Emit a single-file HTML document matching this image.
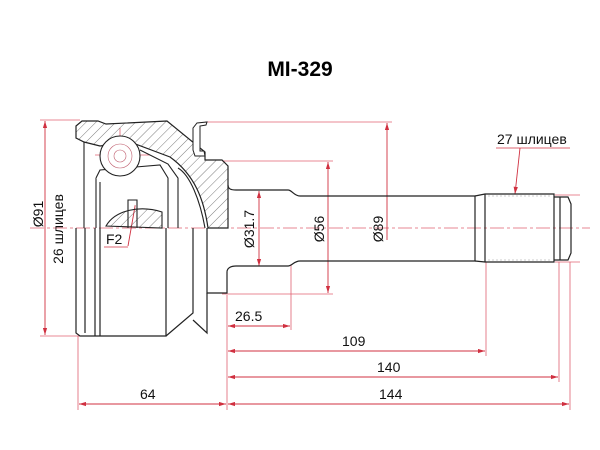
<!DOCTYPE html>
<html><head><meta charset="utf-8"><style>
html,body{margin:0;padding:0;background:#fff;}
svg{display:block;font-family:"Liberation Sans",sans-serif;}
</style></head><body>
<svg width="600" height="450" viewBox="0 0 600 450" xmlns="http://www.w3.org/2000/svg">
<defs>
<pattern id="h" width="7" height="7" patternUnits="userSpaceOnUse" patternTransform="rotate(45)">
<line x1="0" y1="0" x2="0" y2="7" stroke="#444" stroke-width="0.7"/>
</pattern>
<marker id="a" viewBox="0 0 10 6" refX="10" refY="3" markerWidth="8" markerHeight="5" orient="auto-start-reverse">
<path d="M0,0 L10,3 L0,6 z" fill="#d03040"/>
</marker>
</defs>
<text x="300" y="76" font-size="21" font-weight="bold" text-anchor="middle">MI-329</text>

<g stroke="#e06070" stroke-width="0.8" fill="none">
<line x1="205" y1="122" x2="392" y2="122"/>
<line x1="222" y1="161" x2="333" y2="161"/>
<line x1="222" y1="294" x2="333" y2="294"/>
<line x1="40" y1="120" x2="80" y2="120"/>
<line x1="40" y1="336" x2="80" y2="336"/>
<line x1="555" y1="195" x2="580" y2="195"/>
<line x1="555" y1="262" x2="580" y2="262"/>
<line x1="227" y1="295" x2="227" y2="410"/>
<line x1="291" y1="265" x2="291" y2="330"/>
<line x1="486" y1="262" x2="486" y2="356"/>
<line x1="559" y1="262" x2="559" y2="382"/>
<line x1="570" y1="262" x2="570" y2="410"/>
<line x1="78" y1="336" x2="78" y2="410"/>
<line x1="120" y1="128" x2="120" y2="190"/>
<line x1="95" y1="155" x2="150" y2="155"/>
<line x1="30" y1="228" x2="590" y2="228" stroke-dasharray="14,3,3,3"/>
</g>
<g stroke="#d03040" stroke-width="0.9" fill="none" marker-start="url(#a)" marker-end="url(#a)">
<line x1="45" y1="121" x2="45" y2="335"/>
<line x1="259" y1="191" x2="259" y2="266"/>
<line x1="328" y1="162" x2="328" y2="293"/>
<line x1="387" y1="123" x2="387" y2="240" marker-end="none"/>
<line x1="228" y1="326" x2="290" y2="326"/>
<line x1="228" y1="351" x2="485" y2="351"/>
<line x1="228" y1="377" x2="558" y2="377"/>
<line x1="228" y1="404" x2="569" y2="404"/>
<line x1="79" y1="404" x2="226" y2="404"/>
<line x1="520" y1="148" x2="515" y2="194" marker-start="none"/>
<line x1="137" y1="195" x2="128" y2="246" marker-start="none" marker-end="none"/>
</g>
<line x1="496" y1="148" x2="570" y2="148" stroke="#d03040" stroke-width="0.8"/>
<line x1="104" y1="247" x2="128" y2="247" stroke="#d03040" stroke-width="0.8"/>

<path d="M76,126 L82,121 L98,121 L106,124 L167,121 L205,152 L205,160 L222,160 L228,166 L228,228 L208,228 C204,200 195,175 170,157 L130,142 L100,146 L84,142 L76,138 Z" fill="url(#h)" stroke="#222" stroke-width="1.2"/>
<path d="M193,128 L197,123 L207,122 L206,125 L200,126 L200,151 L204,151 L205,156 L195,156 L193,150 Z" fill="#fff" stroke="#222" stroke-width="1"/>
<g stroke="#222" stroke-width="1.1" fill="#fff">
<path d="M84,142 L84,228 M96,178 L96,228 M100,182 L100,228"/>
<path d="M96,178 L100,170 L160,165 L168,178 L168,228"/>
<path d="M106,226 C115,210 140,205 162,212 L162,228 Z" fill="url(#h)"/>
<circle cx="120" cy="156" r="20"/>
<path d="M140,150 L168,164 L178,178 L178,228" fill="none"/>
<path d="M128,228 L128,200 L137,200 L137,228" fill="none"/>
<path d="M178,168 C190,175 200,200 205,228" fill="none"/>
</g>
<g stroke="#c06070" stroke-width="0.6" fill="none"><circle cx="120" cy="156" r="12"/><circle cx="120" cy="156" r="6"/></g>

<g stroke="#222" stroke-width="1.2" fill="none">
<path d="M76,228 L76,333 L80,336 L166,336 L166,228"/>
<path d="M85,228 L85,333 M95,228 L95,336 M100,228 L100,336"/>
<path d="M166,336 L193,313 L193,228"/>
<path d="M207,228 L207,293 L227,293 L227,272 C227,268 231,266 236,266"/>
<path d="M207,293 L207,333 L193,320"/>
<path d="M228,185 C228,189 231,190 236,190 L288,190 C292,190 294,196 300,196 L475,196 L475,261 L300,261 C294,261 292,266 288,266 L236,266"/>
<path d="M475,196 L485,194 L554,194 L554,262 L485,262 L475,261"/>
<path d="M485,194 L485,262 M554,197 L568,197 L571,204 L571,253 L568,260 L554,260 M560,197 L560,260"/>
</g>
<g stroke="#999" stroke-width="0.6" stroke-dasharray="2,2"><line x1="488" y1="196" x2="552" y2="196"/><line x1="488" y1="260" x2="552" y2="260"/></g>

<g font-size="14" fill="#111">
<text x="497" y="144">27 шлицев</text>
<text x="106" y="244">F2</text>
<text x="235" y="321">26.5</text>
<text x="342" y="346">109</text>
<text x="377" y="372">140</text>
<text x="379" y="399">144</text>
<text x="140" y="399">64</text>
<text transform="translate(43,214) rotate(-90)" text-anchor="middle">Ø91</text>
<text transform="translate(63,229) rotate(-90)" text-anchor="middle">26 шлицев</text>
<text transform="translate(254,229) rotate(-90)" text-anchor="middle">Ø31.7</text>
<text transform="translate(324,229) rotate(-90)" text-anchor="middle">Ø56</text>
<text transform="translate(383,229) rotate(-90)" text-anchor="middle">Ø89</text>
</g>
</svg>
</body></html>
